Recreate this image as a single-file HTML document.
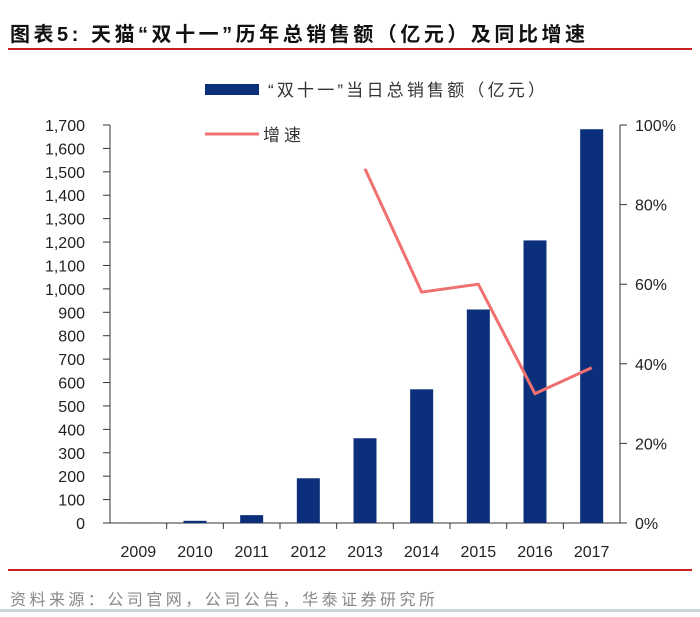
<!DOCTYPE html>
<html><head><meta charset="utf-8"><style>
body{margin:0;background:#fff;width:700px;height:612px;overflow:hidden;font-family:"Liberation Sans","Noto Sans CJK SC",sans-serif}
</style></head><body>
<svg width="700" height="612" xmlns="http://www.w3.org/2000/svg">
<text x="10" y="41" font-size="20" font-weight="bold" fill="#111" textLength="575" lengthAdjust="spacing" font-family="Liberation Sans, Noto Sans CJK SC, sans-serif">图表5:  天猫“双十一”历年总销售额（亿元）及同比增速</text>
<rect x="8" y="48" width="684" height="2" fill="#c8201e"/>
<g>
<rect x="205" y="84" width="54" height="11" fill="#0b2f7a"/>
<text x="268" y="96" font-size="17" fill="#333" textLength="277" lengthAdjust="spacing">“双十一”当日总销售额（亿元）</text>
<line x1="205" y1="134" x2="259" y2="134" stroke="#f07070" stroke-width="3"/>
<text x="263" y="141" font-size="17" fill="#333" textLength="38" lengthAdjust="spacing">增速</text>
</g>
<g id="axes"></g>
<g id="marks"></g>
<rect x="8" y="569" width="684" height="2" fill="#c8201e"/>
<text x="10" y="605" font-size="16" fill="#888" textLength="425" lengthAdjust="spacing">资料来源：公司官网，公司公告，华泰证券研究所</text>
<rect x="0" y="609" width="700" height="3" fill="#cfd6da"/>
</svg>
<script>
const categories=["2009","2010","2011","2012","2013","2014","2015","2016","2017"];
const sales=[0.5,9.36,33.6,191,362,571,912,1207,1682];
const growth=[null,null,null,null,0.89,0.58,0.60,0.325,0.39];
const leftTicks=[0,100,200,300,400,500,600,700,800,900,1000,1100,1200,1300,1400,1500,1600,1700];
const rightTicks=[0,0.2,0.4,0.6,0.8,1.0];
const NS="http://www.w3.org/2000/svg";
const X0=110,X1=620,Y0=523,YT=125;
const band=(X1-X0)/categories.length;
const xc=i=>X0+band*(i+0.5);
const yL=v=>Y0-(v/1700)*(Y0-YT);
const yR=v=>Y0-v*(Y0-YT);
function mk(tag,attrs,parent){const e=document.createElementNS(NS,tag);for(const k in attrs)e.setAttribute(k,attrs[k]);parent.appendChild(e);return e;}
const ax=document.getElementById('axes'),mg=document.getElementById('marks');
let e;
e=mk('line',{x1:X0,y1:YT,x2:X0,y2:Y0,stroke:'#333','stroke-width':1},ax);


e=mk('line',{x1:X1,y1:YT,x2:X1,y2:Y0,stroke:'#333','stroke-width':1},ax);


e=mk('line',{x1:X0,y1:Y0,x2:X1,y2:Y0,stroke:'#333','stroke-width':1},ax);


leftTicks.forEach(v=>{const y=yL(v);
 mk('line',{x1:X0-7,y1:y,x2:X0,y2:y,stroke:'#333'},ax);
 e=mk('text',{x:85,y:y+6,'text-anchor':'end','font-size':16,fill:'#222'},ax);
 e.textContent=v.toLocaleString('en-US');
 
 });
rightTicks.forEach(v=>{const y=yR(v);
 mk('line',{x1:X1,y1:y,x2:X1+7,y2:y,stroke:'#333'},ax);
 e=mk('text',{x:635,y:y+6,'font-size':16,fill:'#222'},ax);
 e.textContent=Math.round(v*100)+'%';
 
 });
categories.forEach((c,i)=>{
 const xt=X0+band*i; if(i>0) mk('line',{x1:xt,y1:Y0,x2:xt,y2:Y0+6,stroke:'#333'},ax);
 e=mk('text',{x:xc(i),y:557,'text-anchor':'middle','font-size':16,fill:'#222'},ax);
 e.textContent=c;
 
 
 const y=yL(sales[i]);
 e=mk('rect',{x:xc(i)-11.5,y:y,width:23,height:Y0-y,fill:'#0b2f7a'},mg);
 
 
});
const pts=[];growth.forEach((g,i)=>{if(g!==null)pts.push(xc(i)+','+yR(g));});
e=mk('polyline',{points:pts.join(' '),fill:'none',stroke:'#f07070','stroke-width':3},mg);


</script>
</body></html>
